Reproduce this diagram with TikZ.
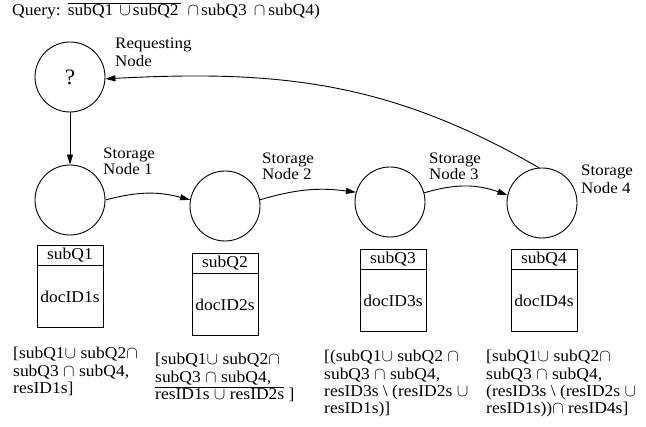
\documentclass[tikz,border=0pt]{standalone}
\usepackage{fontspec}
\setmainfont{Liberation Serif}[FakeStretch=1.06]
\usepackage{tikz}
\usetikzlibrary{positioning, calc, arrows.meta}
\tikzset{storage/.style = {circle,draw,line width=0.9pt,minimum size=70pt,inner sep=0pt},
         memo/.style = {rectangle,draw,line width=0.9pt,minimum width=66pt,minimum height=82pt,inner sep=0pt},
         lbl/.style = {align=left,inner sep=0pt,anchor=north west,font=\fontsize{16}{16}\selectfont},
         result/.style = {align=left,inner sep=0pt,anchor=north west,font=\fontsize{16.5}{17.4}\selectfont},
         flow/.style = {line width=0.9pt,-{Triangle[length=10pt,width=6pt]}}}

\begin{document}
\begin{tikzpicture}[x=1pt,y=1pt]
        \useasboundingbox (0,0) rectangle (646,427);
        % query line
        \node[anchor=base west,inner sep=0pt,font=\fontsize{16.5}{17}\selectfont] (query) at (12,411)
            {Query:\hspace{7pt}$\overline{\mbox{subQ1\hspace{6pt}$\cup$\hspace{2pt}subQ2\hspace{2pt}}}$\hspace{7pt}$\cap$\hspace{2pt}subQ3\hspace{7pt}$\cap$\hspace{3pt}subQ4)};
        % nodes
        \node[storage,font=\fontsize{22}{22}\selectfont] (req) at (70,350) {?};
        \node[storage] (s1) at (70,227) {};
        \node[storage] (s2) at (225,221) {};
        \node[storage] (s3) at (390,225) {};
        \node[storage] (s4) at (542,224) {};
        \node[lbl,font=\fontsize{16}{18}\selectfont] (reqlbl) at (115,389) {Requesting\\Node};
        \node[lbl] (s1lbl) at (103,279) {Storage\\Node 1};
        \node[lbl] (s2lbl) at (262,274) {Storage\\Node 2};
        \node[lbl] (s3lbl) at (429,274) {Storage\\Node 3};
        \node[lbl,font=\fontsize{16}{18}\selectfont] (s4lbl) at (581,262) {Storage\\Node 4};
        % connectors
        \draw[flow] (req.south) -- (s1.north);
        \draw[flow] (s1.east) to[bend left=15] (s2.170);
        \draw[flow] (s2.10) to[bend left=12] (s3.164);
        \draw[flow] (s3.15) to[bend left=18] (s4.167);
        \draw[flow] (s4.95) to[out=150,in=3] (req.-3);
        % boxes
        \foreach \n/\x/\y in {1/70/141, 2/225/133, 3/393/137, 4/544/137} {
            \node[memo] (box\n) at (\x,\y) {};
            \draw[line width=0.9pt] ($(box\n.north west)+(0,-21)$) coordinate (hl\n) -- ($(box\n.north east)+(0,-21)$) coordinate (hr\n);
            \node[font=\fontsize{16.5}{17}\selectfont] (head\n) at ($(box\n.north)+(0,-10.5)$) {subQ\n};
            \node[font=\fontsize{16.5}{17}\selectfont] (doc\n) at ($(hl\n)!0.5!(box\n.south east)$) {docID\n s};
        }
        % partial results
        \node[result] (res1) at (13,80)
            {[subQ1$\cup$ subQ2$\cap$\\subQ3 $\cap$ subQ4,\\resID1s]};
        \node[result] (res2) at (155,74)
            {[subQ1$\cup$ subQ2$\cap$\\subQ3 $\cap$ subQ4,\\$\overline{\mbox{resID1s $\cup$ resID2s}}$ ]};
        \node[result] (res3) at (324,77)
            {[(subQ1$\cup$ subQ2 $\cap$\\subQ3 $\cap$ subQ4,\\resID3s \textbackslash\ (resID2s $\cup$\\resID1s)]};
        \node[result] (res4) at (486,77)
            {[subQ1$\cup$ subQ2$\cap$\\subQ3 $\cap$ subQ4,\\(resID3s \textbackslash\ (resID2s $\cup$\\resID1s))$\cap$ resID4s]};
    \end{tikzpicture}
\end{document}
